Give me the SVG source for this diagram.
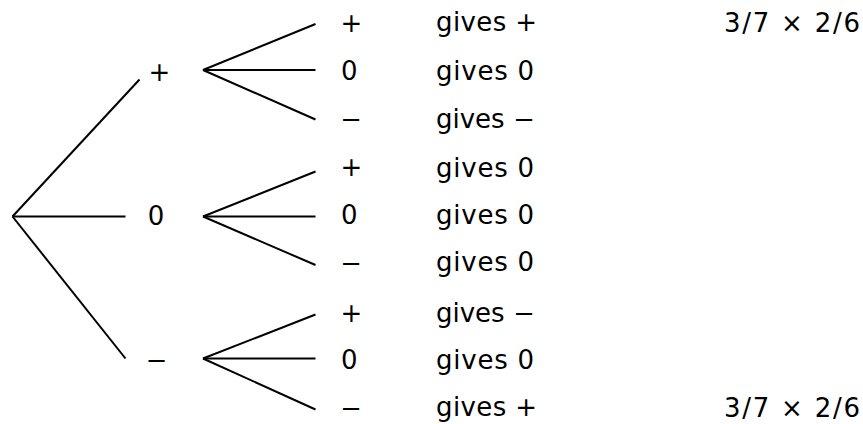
<svg xmlns="http://www.w3.org/2000/svg" width="863" height="424" viewBox="0 0 863 424">
<style>
text{font-family:"DejaVu Sans","Verdana",sans-serif;font-size:26px;fill:#000}
.c line{stroke:#000;stroke-width:2;stroke-linecap:butt}
.m{text-anchor:middle}
.d{font-family:"Liberation Sans",sans-serif;font-size:29px}
</style>
<rect width="863" height="424" fill="#fff"/>
<g class="c" id="connectors">
<line x1="12.5" y1="216.5" x2="139.5" y2="79.5"/>
<line x1="12.5" y1="216.5" x2="125.5" y2="216.5"/>
<line x1="12.5" y1="216.5" x2="125.5" y2="358.5"/>
<line x1="203" y1="70" x2="315.5" y2="24"/>
<line x1="203" y1="70" x2="315.5" y2="70"/>
<line x1="203" y1="70" x2="315.5" y2="119.5"/>
<line x1="203" y1="216.5" x2="315.5" y2="171.5"/>
<line x1="203" y1="216.5" x2="315.5" y2="216.5"/>
<line x1="203" y1="216.5" x2="315.5" y2="265"/>
<line x1="203" y1="358.5" x2="315.5" y2="314.5"/>
<line x1="203" y1="358.5" x2="315.5" y2="358.5"/>
<line x1="203" y1="358.5" x2="315.5" y2="409.5"/>
</g>
<g id="n1-plus"><text class="m" x="159.5" y="81">+</text></g>
<g id="n1-zero"><text class="m" x="156" y="225">0</text></g>
<g id="n1-minus"><text class="m d" x="156.5" y="369">–</text></g>
<g id="r1"><text x="340.5" y="31.5">+</text><text x="436" y="31" textLength="101" lengthAdjust="spacing">gives +</text><text x="724" y="31.5" textLength="136" lengthAdjust="spacing">3/7 × 2/6</text></g>
<g id="r2"><text x="341" y="80">0</text><text x="436" y="80" textLength="98" lengthAdjust="spacing">gives 0</text></g>
<g id="r3"><text class="d" x="343" y="127.5">–</text><text x="436" y="128">gives <tspan class="d" dx="3" dy="-0.5">–</tspan></text></g>
<g id="r4"><text x="340.5" y="176">+</text><text x="436" y="176.5" textLength="98" lengthAdjust="spacing">gives 0</text></g>
<g id="r5"><text x="341" y="223.5">0</text><text x="436" y="223.5" textLength="98" lengthAdjust="spacing">gives 0</text></g>
<g id="r6"><text class="d" x="343" y="271.5">–</text><text x="436" y="270.5" textLength="98" lengthAdjust="spacing">gives 0</text></g>
<g id="r7"><text x="340.5" y="322">+</text><text x="436" y="322">gives <tspan class="d" dx="3" dy="-0.5">–</tspan></text></g>
<g id="r8"><text x="341" y="368.5">0</text><text x="436" y="368.5" textLength="98" lengthAdjust="spacing">gives 0</text></g>
<g id="r9"><text class="d" x="343" y="416.5">–</text><text x="436" y="416" textLength="101" lengthAdjust="spacing">gives +</text><text x="724" y="416.5" textLength="136" lengthAdjust="spacing">3/7 × 2/6</text></g>
</svg>
